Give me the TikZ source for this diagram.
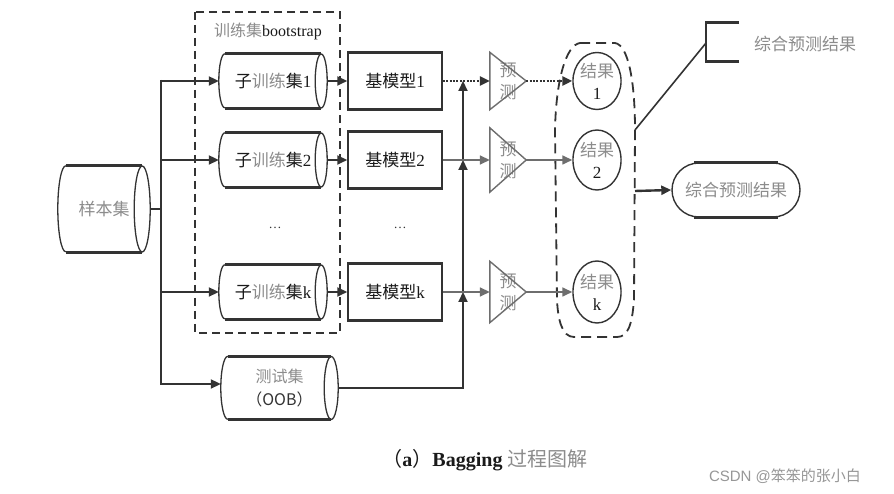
\documentclass[tikz,border=0pt]{standalone}
\usepackage{fontspec}
\setmainfont{Liberation Serif}
\newfontfamily\cjk{Noto Sans CJK SC}
\newfontfamily\wmfont{Liberation Sans}
\usetikzlibrary{arrows.meta,shapes.geometric,shapes.misc,calc}
\definecolor{ln}{HTML}{333333}
\definecolor{gt}{HTML}{8C8C8C}
\definecolor{dt}{HTML}{1A1A1A}
\definecolor{ga}{HTML}{6E6E6E}
\newcommand\cylends[3]{%
  \draw[ln,line width=1.3pt] (#1.east) ellipse [x radius=#2pt, y radius=#3pt];
  \draw[ln,line width=1.3pt] (#1.north west) arc[start angle=90,end angle=270,x radius=#2pt,y radius=#3pt];
  \draw[ln,line width=3pt] (#1.north west) -- (#1.north east);
  \draw[ln,line width=3pt] (#1.south west) -- (#1.south east);}
\newcommand\boxedges[1]{%
  \draw[ln,line width=3pt] (#1.north west) -- (#1.north east);
  \draw[ln,line width=3pt] (#1.south west) -- (#1.south east);}
\newcommand\trishape[1]{%
  \draw[ga,line width=1.4pt] (#1.north west) -- (#1.east) -- (#1.south west) -- cycle;}
\begin{document}
\begin{tikzpicture}[x=1pt,y=1pt,
  txt/.style={font=\cjk\fontsize{17}{20}\selectfont,text=dt,align=center},
  cylbody/.style={txt,inner sep=0pt},
  mbox/.style={txt,draw=ln,line width=1.5pt,minimum width=94,minimum height=56,inner sep=0pt},
  tribody/.style={txt,text=gt,minimum width=36,inner sep=0pt,font=\cjk\fontsize{17}{22}\selectfont},
  resnode/.style={txt,ellipse,draw=ln,line width=1.4pt,minimum width=48,inner sep=0pt,font=\cjk\fontsize{17}{22}\selectfont},
  arr/.style={-{Triangle[length=10pt,width=9pt]},line width=2pt,draw=ln},
  garr/.style={-{Triangle[length=10pt,width=9pt]},line width=1.6pt,draw=ga},
  dotarr/.style={-{Triangle[length=10pt,width=9pt]},line width=2.6pt,draw=ln,dash pattern=on 2pt off 1.4pt},
  conn/.style={line width=2pt,draw=ln},
  dashbox/.style={draw=ln,line width=2.2pt,dash pattern=on 8pt off 5pt},
  dashgrp/.style={draw=ln,line width=1.8pt,dash pattern=on 10pt off 6pt}]
\useasboundingbox (0,0) rectangle (894,494);
\fill[white] (0,0) rectangle (894,494);

% training-set dashed box
\draw[dashbox] (195,482) rectangle (340,161);
\node[txt,font=\cjk\fontsize{16}{18}\selectfont] (tlabel) at (268,463) {\textcolor{gt}{训练集}{\rmfamily\fontsize{16}{18}\selectfont bootstrap}};

% sample set
\node[cylbody,text=gt,minimum width=76,minimum height=86] (sample) at (104,285) {样本集};
\cylends{sample}{8}{43}

% sub training sets
\node[cylbody,minimum width=96,minimum height=54] (s1) at (273,413) {子\textcolor{gt}{训练}集{\rmfamily 1}};
\node[cylbody,minimum width=96,minimum height=54] (s2) at (273,334) {子\textcolor{gt}{训练}集{\rmfamily 2}};
\node[cylbody,minimum width=96,minimum height=54] (sk) at (273,202) {子\textcolor{gt}{训练}集{\rmfamily k}};
\cylends{s1}{6}{27}
\cylends{s2}{6}{27}
\cylends{sk}{6}{27}

% test set
\node[cylbody,minimum width=103,minimum height=63,font=\cjk\fontsize{16}{23}\selectfont] (test) at (279.5,106) {\textcolor{gt}{测试集}\\\textcolor{ln}{（OOB）}};
\cylends{test}{7}{31.5}

% base models
\node[mbox] (b1) at (395,413) {基模型{\rmfamily 1}};
\node[mbox] (b2) at (395,334) {基模型{\rmfamily 2}};
\node[mbox] (bk) at (395,202) {基模型{\rmfamily k}};
\boxedges{b1}
\boxedges{b2}
\boxedges{bk}

% ellipses
\node[font=\rmfamily\fontsize{13}{14}\selectfont,text=ln] (dots1) at (275,266) {…};
\node[font=\rmfamily\fontsize{13}{14}\selectfont,text=ln] (dots2) at (400,266) {…};

% predictors
\node[tribody,minimum height=57] (t1) at (508,413) {预\\测};
\node[tribody,minimum height=64] (t2) at (508,334) {预\\测};
\node[tribody,minimum height=61] (tk) at (508,202) {预\\测};
\trishape{t1}
\trishape{t2}
\trishape{tk}

% results
\node[resnode,minimum height=57] (c1) at (597,413) {\textcolor{gt}{结果}\\{\rmfamily 1}};
\node[resnode,minimum height=60] (c2) at (597,334) {\textcolor{gt}{结果}\\{\rmfamily 2}};
\node[resnode,minimum height=62] (ck) at (597,202) {\textcolor{gt}{结果}\\{\rmfamily k}};

% result group (dashed)
\draw[dashgrp] (580,451) -- (615,451) .. controls (628,449) and (635,414) .. (635,364)
  -- (634,194) .. controls (632,169) and (628,157) .. (617,157) -- (574,157)
  .. controls (562,157) and (558,174) .. (557,194) -- (555,364)
  .. controls (556,414) and (566,449) .. (580,451) -- cycle;
\coordinate (gR1) at (635,364);
\coordinate (gR2) at (635,303);

% final result
\node[txt,text=gt,rounded rectangle,draw=ln,line width=1.4pt,minimum width=128,minimum height=54,inner sep=0pt] (final) at (736,304) {综合预测结果};
\draw[ln,line width=3pt] ([xshift=-42pt]final.north) -- ([xshift=42pt]final.north);
\draw[ln,line width=3pt] ([xshift=-42pt]final.south) -- ([xshift=42pt]final.south);

% annotation
\coordinate (br) at (706,451);
\node[txt,text=gt] (ann) at (805,450) {综合预测结果};
\draw[ln,line width=1.6pt] (gR1) -- (br);
\draw[ln,line width=1.6pt] (706,471) -- (706,432);
\draw[ln,line width=3pt] (739,471) -- (705.2,471);
\draw[ln,line width=3pt] (739,432) -- (705.2,432);

% spine from sample set
\coordinate (sp) at (161,0);
\draw[conn] ([xshift=8pt]sample.east) -- (sp |- sample.east);
\draw[conn] (161,414) -- (161,109);
\draw[arr] (sp |- s1.west) -- ([xshift=-6pt]s1.west);
\draw[arr] (sp |- s2.west) -- ([xshift=-6pt]s2.west);
\draw[arr] (sp |- sk.west) -- ([xshift=-6pt]sk.west);
\draw[arr] (160,110) -- ([xshift=-7pt,yshift=4pt]test.west);

% cylinders to models
\draw[arr] ([xshift=6pt]s1.east) -- (b1.west);
\draw[arr] ([xshift=6pt]s2.east) -- (b2.west);
\draw[arr] ([xshift=6pt]sk.east) -- (bk.west);

% OOB rail
\coordinate (rail) at (463,106);
\draw[conn] ([xshift=7pt]test.east) -- ([xshift=1pt]rail);
\draw[arr] (rail) -- (rail |- bk.east);
\draw[arr] (rail |- bk.east) -- (rail |- b2.east);
\draw[arr] (rail |- b2.east) -- (rail |- b1.east);

% models to predictors
\draw[dotarr] (b1.east) -- (t1.west);
\draw[garr] (b2.east) -- (t2.west);
\draw[garr] (bk.east) -- (tk.west);

% predictors to results
\draw[dotarr] (t1.east) -- (c1.west);
\draw[garr] (t2.east) -- (c2.west);
\draw[garr] (tk.east) -- (ck.west);

% group to final
\draw[arr,line width=2.4pt] (gR2) -- (final.west);

% caption
\node[font=\rmfamily\fontsize{20}{24}\selectfont,text=dt] (cap) at (485,34) {{\cjk （}\textbf{a}{\cjk ）}\textbf{Bagging} {\cjk\color{gt}过程图解}};

% watermark
\node[font=\wmfont\fontsize{15}{18}\selectfont,text=gt!90] (wm) at (785,18) {CSDN @{\cjk 笨笨的张小白}};
\end{tikzpicture}
\end{document}
